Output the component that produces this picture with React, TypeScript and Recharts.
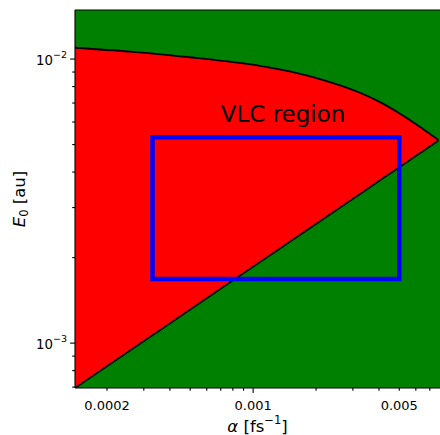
import React from 'react';
import {
  ComposedChart,
  Area,
  XAxis,
  YAxis,
  CartesianGrid,
  ReferenceArea,
  ReferenceLine,
  ReferenceDot,
} from 'recharts';

// Boundary of the red band: alpha samples with lower / upper field limits
const alpha = [
  1.406e-4, 2.576e-4, 5.27e-4, 7.58e-4, 1.079e-3, 1.535e-3, 2.21e-3,
  3.247e-3, 4.047e-3, 5.047e-3, 6.29e-3, 7.02e-3, 7.71e-3,
];
const upperE0 = [
  1.096e-2, 1.0622e-2, 1.0106e-2, 9.807e-3, 9.464e-3, 9.007e-3, 8.4e-3,
  7.609e-3, 7.051e-3, 6.418e-3, 5.766e-3, 5.448e-3, 5.18e-3,
];
const lowerE0 = [
  6.95e-4, 9.41e-4, 1.348e-3, 1.617e-3, 1.929e-3, 2.301e-3, 2.761e-3,
  3.35e-3, 3.741e-3, 4.178e-3, 4.667e-3, 4.93e-3, 5.18e-3,
];

// Axis ranges
const xDomain = [1.406e-4, 7.83e-3];
const yDomain = [6.95e-4, 1.488e-2];

// Tick positions and labels
const xTicks = [2e-4, 3e-4, 4e-4, 5e-4, 6e-4, 7e-4, 8e-4, 9e-4, 1e-3, 2e-3, 3e-3, 4e-3, 5e-3, 6e-3, 7e-3];
const xMajorTicks = [1e-3];
const xLabelValues = [2e-4, 1e-3, 5e-3];
const xLabelTexts = ['0.0002', '0.001', '0.005'];

const yTicks = [7e-4, 8e-4, 9e-4, 1e-3, 2e-3, 3e-3, 4e-3, 5e-3, 6e-3, 7e-3, 8e-3, 9e-3, 1e-2];
const yMajorTicks = [1e-3, 1e-2];
const yMajorExponents = ['\u22123', '\u22122'];

// VLC region box and its caption anchor
const boxAlpha = [3.3e-4, 5e-3];
const boxE0 = [1.68e-3, 5.31e-3];
const captionAlpha = 7e-4;
const captionE0 = 6e-3;
const captionText = 'VLC region';

const data = alpha.map((a, i) => ({ alpha: a, band: [lowerE0[i], upperE0[i]] }));

const FONT = '"DejaVu Sans", sans-serif';
const same = (a: number, b: number) => Math.abs(a - b) / b < 1e-6;
const findIn = (arr: number[], v: number) => arr.findIndex((t) => same(t, v));

const XTick = (props: any) => {
  const { x, y, payload } = props;
  const v = payload.value as number;
  const major = findIn(xMajorTicks, v) >= 0;
  const li = findIn(xLabelValues, v);
  return (
    <g>
      <line x1={x} y1={y} x2={x} y2={y + (major ? 4.9 : 2.8)} stroke="#000" strokeWidth={1.1} />
      {li >= 0 && (
        <text x={x} y={y + 21.5} textAnchor="middle" fontFamily={FONT} fontSize={13} fill="#000">
          {xLabelTexts[li]}
        </text>
      )}
    </g>
  );
};

const YTick = (props: any) => {
  const { x, y, payload } = props;
  const v = payload.value as number;
  const mi = findIn(yMajorTicks, v);
  return (
    <g>
      <line x1={x - (mi >= 0 ? 4.9 : 2.8)} y1={y} x2={x} y2={y} stroke="#000" strokeWidth={1.1} />
      {mi >= 0 && (
        <text x={x - 8} y={y + 6} textAnchor="end" fontFamily={FONT} fontSize={13.3} fill="#000">
          10
          <tspan fontSize={9.5} dy={-7.5}>
            {yMajorExponents[mi]}
          </tspan>
        </text>
      )}
    </g>
  );
};

const XTitle = (props: any) => {
  const vb = props.viewBox;
  return (
    <text
      x={vb.x + vb.width / 2}
      y={vb.y + 44}
      textAnchor="middle"
      fontFamily={FONT}
      fontSize={16.5}
      fill="#000"
    >
      <tspan fontStyle="italic">α</tspan>
      <tspan> [fs</tspan>
      <tspan fontSize={11.5} dy={-8.5}>
        {'\u22121'}
      </tspan>
      <tspan dy={8.5}>]</tspan>
    </text>
  );
};

const YTitle = (props: any) => {
  const vb = props.viewBox;
  const cx = vb.x + 25;
  const cy = vb.y + vb.height / 2;
  return (
    <text
      x={cx}
      y={cy}
      transform={`rotate(-90 ${cx} ${cy})`}
      textAnchor="middle"
      fontFamily={FONT}
      fontSize={16.5}
      fill="#000"
    >
      <tspan fontStyle="italic">E</tspan>
      <tspan fontSize={11.5} dy={3}>
        0
      </tspan>
      <tspan dy={-3}> [au]</tspan>
    </text>
  );
};

const Caption = (props: any) => {
  const vb = props.viewBox;
  return (
    <text x={vb.x} y={vb.y} fontFamily={FONT} fontSize={23} fill="#000">
      {captionText}
    </text>
  );
};

export default function App() {
  return (
    <div style={{ position: 'absolute', left: 0, top: 0 }}>
      <ComposedChart
        width={440}
        height={435}
        data={data}
        margin={{ top: 10, right: 0, bottom: 0, left: 0 }}
      >
        <CartesianGrid fill="#008000" horizontal={false} vertical={false} />
        <XAxis
          dataKey="alpha"
          type="number"
          scale="log"
          domain={xDomain}
          ticks={xTicks}
          interval={0}
          allowDataOverflow
          height={47}
          tickSize={0}
          tickMargin={0}
          tickLine={false}
          tick={<XTick />}
          axisLine={{ stroke: '#000', strokeWidth: 1.1 }}
          label={<XTitle />}
        />
        <YAxis
          type="number"
          scale="log"
          domain={yDomain}
          ticks={yTicks}
          interval={0}
          allowDataOverflow
          width={75}
          tickSize={0}
          tickMargin={0}
          tickLine={false}
          tick={<YTick />}
          axisLine={{ stroke: '#000', strokeWidth: 1.1 }}
          label={<YTitle />}
        />
        <Area
          dataKey="band"
          type="monotone"
          fill="#ff0000"
          fillOpacity={1}
          stroke="#000"
          strokeWidth={1.8}
          dot={false}
          activeDot={false}
          isAnimationActive={false}
        />
        <ReferenceArea
          x1={boxAlpha[0]}
          x2={boxAlpha[1]}
          y1={boxE0[0]}
          y2={boxE0[1]}
          fill="none"
          fillOpacity={0}
          stroke="#0000ff"
          strokeWidth={4.5}
        />
        <ReferenceDot
          x={captionAlpha}
          y={captionE0}
          r={0}
          fill="none"
          stroke="none"
          label={<Caption />}
        />
        <ReferenceLine y={yDomain[1]} stroke="#000" strokeWidth={1.1} />
      </ComposedChart>
    </div>
  );
}
